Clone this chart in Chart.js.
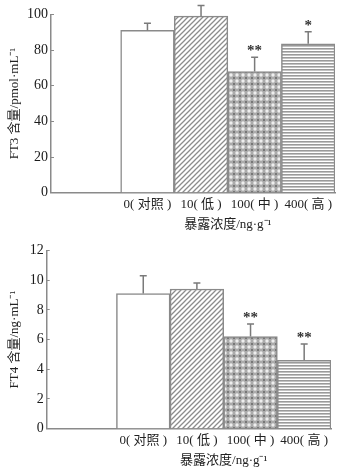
<!DOCTYPE html>
<html>
<head>
<meta charset="utf-8">
<script src="https://cdn.jsdelivr.net/npm/chart.js@4"></script>
<style>
  body { margin: 0; background: #fff; }
  .box { position: absolute; left: 0; width: 352px; height: 236px; }
</style>
</head>
<body>
<div class="box" style="top:0"><canvas id="ft3Chart" width="352" height="236"></canvas></div>
<div class="box" style="top:236px"><canvas id="ft4Chart" width="352" height="236"></canvas></div>
<script>
"use strict";

// chart data
const categories = ["0( 对照 )", "10( 低 )", "100( 中 )", "400( 高 )"];
const ft3Means = [91, 99, 68, 83.5];
const ft3Errors = [4, 6, 8, 6.7];
const ft3Marks = ["", "", "**", "*"];
const ft3Ticks = [0, 20, 40, 60, 80, 100];
const ft4Means = [9.1, 9.4, 6.2, 4.6];
const ft4Errors = [1.2, 0.4, 0.85, 1.1];
const ft4Marks = ["", "", "**", "**"];
const ft4Ticks = [0, 2, 4, 6, 8, 10, 12];

const serif = "'Liberation Serif', 'Noto Sans CJK SC', serif";
const axisGray = "#8a8a8a";

// fill patterns for the bars
function makePattern(kind) {
  const c = document.createElement("canvas");
  const g = c.getContext("2d");
  if (kind === "diag") {
    c.width = 5; c.height = 5;
    g.fillStyle = "#fff"; g.fillRect(0, 0, 5, 5);
    g.strokeStyle = "#8c8c8c"; g.lineWidth = 1.3;
    g.beginPath();
    g.moveTo(-1, 6); g.lineTo(6, -1);
    g.moveTo(-1, 1); g.lineTo(1, -1);
    g.moveTo(4, 6); g.lineTo(6, 4);
    g.stroke();
  } else if (kind === "dots") {
    c.width = 6; c.height = 6;
    g.fillStyle = "#ababab"; g.fillRect(0, 0, 6, 6);
    g.fillStyle = "#eee";
    g.beginPath(); g.arc(3, 3, 1.7, 0, Math.PI * 2); g.fill();
    g.fillStyle = "#777";
    g.fillRect(0, 0, 1, 1); g.fillRect(5, 5, 1, 1);
    g.fillRect(0, 5, 1, 1); g.fillRect(5, 0, 1, 1);
  } else if (kind === "horiz") {
    c.width = 4; c.height = 3;
    g.fillStyle = "#fff"; g.fillRect(0, 0, 4, 3);
    g.fillStyle = "#9a9a9a"; g.fillRect(0, 0, 4, 1.6);
  } else {
    c.width = 1; c.height = 1;
    g.fillStyle = "#fff"; g.fillRect(0, 0, 1, 1);
  }
  return g.createPattern(c, "repeat");
}

const barFills = [makePattern("none"), makePattern("diag"), makePattern("dots"), makePattern("horiz")];

// error bars + significance stars
const errorBarsPlugin = {
  id: "errorBars",
  afterDatasetsDraw(chart, args, opts) {
    const ctx = chart.ctx;
    const yScale = chart.scales.y;
    const meta = chart.getDatasetMeta(0);
    ctx.save();
    meta.data.forEach((bar, i) => {
      const mean = chart.data.datasets[0].data[i].y;
      const yTop = yScale.getPixelForValue(mean + opts.errors[i]);
      ctx.strokeStyle = "#7a7a7a";
      ctx.lineWidth = 1.5;
      ctx.beginPath();
      ctx.moveTo(bar.x, bar.y);
      ctx.lineTo(bar.x, yTop);
      ctx.moveTo(bar.x - 3.5, yTop);
      ctx.lineTo(bar.x + 3.5, yTop);
      ctx.stroke();
      if (opts.marks[i]) {
        ctx.fillStyle = "#333";
        ctx.font = "bold 15px " + serif;
        ctx.textAlign = "center";
        ctx.textBaseline = "middle";
        ctx.fillText(opts.marks[i], bar.x, yTop - 6);
      }
    });
    // x axis title centred under the bars
    const xScale = chart.scales.x;
    ctx.fillStyle = "#222";
    ctx.font = "13px " + serif;
    ctx.textAlign = "center";
    ctx.textBaseline = "middle";
    ctx.fillText(opts.xTitle, xScale.getPixelForValue(1.5), xScale.top + 32);
    ctx.restore();
  }
};

function buildChart(id, means, errors, marks, ticks, yTitle, area) {
  const ctx = document.getElementById(id).getContext("2d");
  return new Chart(ctx, {
    type: "bar",
    data: {
      datasets: [
        {
          data: means.map((v, i) => ({ x: i, y: v })),
          backgroundColor: barFills,
          borderColor: axisGray,
          borderWidth: 1.5,
          barPercentage: 1,
          categoryPercentage: 1,
        },
      ],
    },
    plugins: [errorBarsPlugin],
    options: {
      responsive: false,
      animation: false,
      layout: { padding: { top: area.top, right: area.right, left: 0, bottom: 0 } },
      scales: {
        x: {
          type: "linear",
          offset: false,
          min: -1.8,
          max: 3.5,
          afterBuildTicks(scale) {
            scale.ticks = categories.map((c, i) => ({ value: i }));
          },
          afterFit(scale) {
            scale.height = area.xHeight;
          },
          grid: { display: false, drawTicks: false, tickLength: 0 },
          border: { display: true, color: axisGray, width: 1.5 },
          ticks: {
            padding: 4,
            color: "#222",
            font: { family: serif, size: 13 },
            maxRotation: 0,
            autoSkip: false,
            callback: (value) => categories[value] || "",
          },
        },
        y: {
          min: 0,
          max: ticks[ticks.length - 1],
          afterBuildTicks(scale) {
            scale.ticks = ticks.map((t) => ({ value: t }));
          },
          afterFit(scale) {
            scale.width = area.left;
          },
          grid: { drawOnChartArea: false, tickLength: -3, color: axisGray, lineWidth: 1 },
          border: { display: true, color: axisGray, width: 1.5 },
          ticks: {
            padding: 6,
            color: "#1a1a1a",
            font: { family: serif, size: 14 },
          },
          title: {
            display: true,
            text: yTitle,
            color: "#222",
            font: { family: serif, size: 13 },
            padding: { top: 7, bottom: 0 },
          },
        },
      },
      plugins: {
        legend: { display: false },
        tooltip: { enabled: false },
        errorBars: { errors: errors, marks: marks, xTitle: "暴露浓度/ng·g⁻¹" },
      },
    },
  });
}

buildChart("ft3Chart", ft3Means, ft3Errors, ft3Marks, ft3Ticks, "FT3 含量/pmol·mL⁻¹",
  { top: 12.7, right: 17, left: 51, xHeight: 43.3 });
buildChart("ft4Chart", ft4Means, ft4Errors, ft4Marks, ft4Ticks, "FT4 含量/ng·mL⁻¹",
  { top: 4.7, right: 21, left: 46.7, xHeight: 43.3 });
</script>
</body>
</html>
